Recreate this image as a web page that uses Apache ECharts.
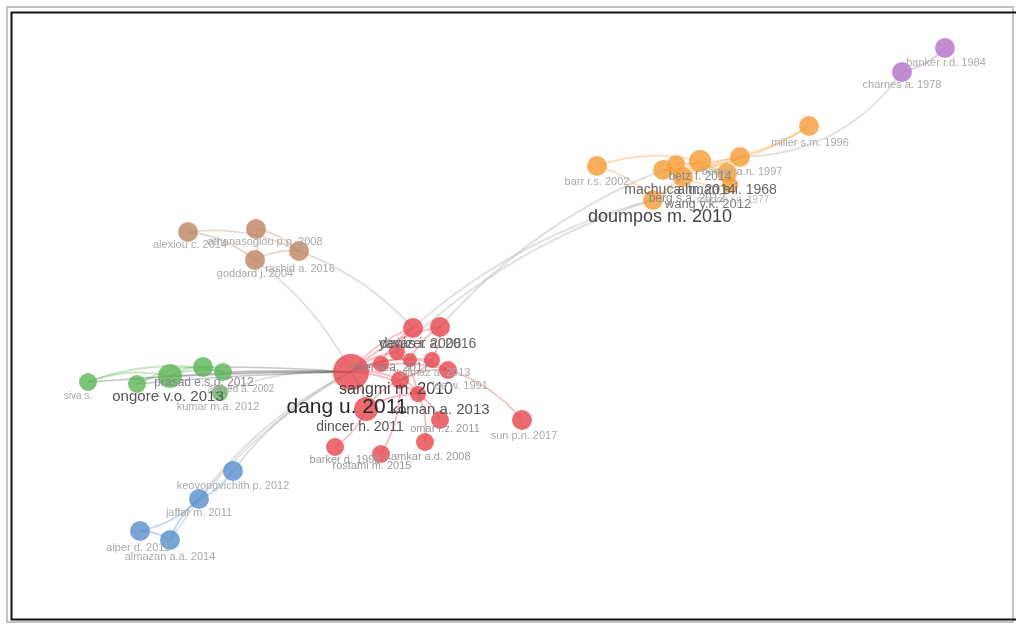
<!DOCTYPE html>
<html>
<head>
<meta charset="utf-8">
<script src="https://cdn.jsdelivr.net/npm/echarts@6/dist/echarts.min.js"></script>
<style>
  html, body { margin: 0; padding: 0; background: #fff; }
  #chart { width: 1016px; height: 625px; }
</style>
</head>
<body>
<div id="chart"></div>
<script>
// Co-citation network: documents, their cluster, layout position and weight
const nodeNames = [
  'dang u. 2011', 'dincer h. 2011', 'sangmi m. 2010', 'koman a. 2013', 'denizer a. 2016',
  'yavas i. 2008', 'oner w.a. 2017', 'yilmaz a. 2013', 'lee w. 1991', 'omar r.z. 2011',
  'sun p.n. 2017', 'barker d. 1993', 'kamkar a.d. 2008', 'rostami m. 2015', 'ozkan g. 2012',
  'kaya o. 2014',
  'siva s.', 'ongore v.o. 2013', 'prasad e.s.o. 2012', 'ahmed a. 2002', 'kumar m.a. 2012',
  'rahman m. 2010',
  'alexiou c. 2014', 'athanasoglou p.p. 2008', 'goddard j. 2004', 'rashid a. 2016',
  'keovongvichith p. 2012', 'jaffar m. 2011', 'alper d. 2011', 'almazan a.a. 2014',
  'doumpos m. 2010', 'barr r.s. 2002', 'miller s.m. 1996', 'berger a.n. 1997', 'machuca m. 2014',
  'altman e.i. 1968', 'wang y.k. 2012', 'berg s.a. 2012', 'merton r.c. 1977', 'betz f. 2014',
  'banker r.d. 1984', 'charnes a. 1978'
];
const nodeCluster = [
  1, 1, 1, 1, 1, 1, 1, 1, 1, 1, 1, 1, 1, 1, 1, 1,
  2, 2, 2, 2, 2, 2,
  3, 3, 3, 3,
  4, 4, 4, 4,
  5, 5, 5, 5, 5, 5, 5, 5, 5, 5,
  6, 6
];
const nodeX = [
  351, 366, 400, 418, 440, 413, 397, 432, 448, 440, 522, 335, 425, 381, 381, 410,
  88, 137, 170, 223, 220, 203,
  188, 256, 255, 299,
  233, 199, 140, 170,
  653, 597, 809, 740, 663, 700, 683, 727, 730, 676,
  945, 902
];
const nodeY = [
  372, 409, 380, 394, 327, 328, 352, 360, 370, 420, 420, 447, 442, 454, 364, 360,
  382, 384, 376, 372, 393, 367,
  232, 229, 260, 251,
  471, 499, 531, 540,
  200, 166, 126, 157, 170, 161, 177, 173, 185, 164,
  48, 72
];
const nodeWeight = [
  18, 12, 9, 8, 10, 10, 8, 8, 9, 9, 10, 9, 9, 9, 8, 7,
  9, 9, 12, 9, 8, 10,
  10, 10, 10, 10,
  10, 10, 10, 10,
  10, 10, 10, 10, 10, 11, 10, 10, 8, 9,
  10, 10
];

// Links inside a cluster
const clusterLinks = [
  ['dang u. 2011', 'dincer h. 2011'], ['dang u. 2011', 'sangmi m. 2010'], ['dang u. 2011', 'koman a. 2013'],
  ['dang u. 2011', 'oner w.a. 2017'], ['dang u. 2011', 'ozkan g. 2012'], ['dang u. 2011', 'kaya o. 2014'],
  ['dang u. 2011', 'yavas i. 2008'], ['dang u. 2011', 'denizer a. 2016'], ['dang u. 2011', 'lee w. 1991'],
  ['dang u. 2011', 'yilmaz a. 2013'], ['sangmi m. 2010', 'lee w. 1991'], ['lee w. 1991', 'sun p.n. 2017'],
  ['dincer h. 2011', 'barker d. 1993'], ['sangmi m. 2010', 'rostami m. 2015'], ['koman a. 2013', 'kamkar a.d. 2008'],
  ['koman a. 2013', 'omar r.z. 2011'], ['yilmaz a. 2013', 'sangmi m. 2010'], ['kaya o. 2014', 'denizer a. 2016'],
  ['oner w.a. 2017', 'yavas i. 2008'], ['ozkan g. 2012', 'koman a. 2013'], ['dincer h. 2011', 'sangmi m. 2010'],
  ['ozkan g. 2012', 'yavas i. 2008'], ['kaya o. 2014', 'lee w. 1991'], ['oner w.a. 2017', 'koman a. 2013'],
  ['dincer h. 2011', 'koman a. 2013'], ['denizer a. 2016', 'yilmaz a. 2013'],
  ['siva s.', 'ahmed a. 2002'], ['siva s.', 'prasad e.s.o. 2012'], ['ongore v.o. 2013', 'prasad e.s.o. 2012'],
  ['ongore v.o. 2013', 'rahman m. 2010'], ['prasad e.s.o. 2012', 'rahman m. 2010'], ['prasad e.s.o. 2012', 'ahmed a. 2002'],
  ['rahman m. 2010', 'ahmed a. 2002'], ['kumar m.a. 2012', 'ahmed a. 2002'],
  ['alexiou c. 2014', 'goddard j. 2004'], ['alexiou c. 2014', 'rashid a. 2016'], ['athanasoglou p.p. 2008', 'rashid a. 2016'],
  ['goddard j. 2004', 'rashid a. 2016'], ['athanasoglou p.p. 2008', 'goddard j. 2004'],
  ['keovongvichith p. 2012', 'jaffar m. 2011'], ['jaffar m. 2011', 'alper d. 2011'], ['alper d. 2011', 'almazan a.a. 2014'],
  ['almazan a.a. 2014', 'jaffar m. 2011'],
  ['barr r.s. 2002', 'doumpos m. 2010'], ['barr r.s. 2002', 'altman e.i. 1968'], ['miller s.m. 1996', 'machuca m. 2014'],
  ['miller s.m. 1996', 'betz f. 2014'], ['berger a.n. 1997', 'machuca m. 2014'], ['altman e.i. 1968', 'machuca m. 2014'],
  ['betz f. 2014', 'berg s.a. 2012'], ['wang y.k. 2012', 'doumpos m. 2010'], ['merton r.c. 1977', 'wang y.k. 2012'],
  ['berg s.a. 2012', 'altman e.i. 1968'], ['doumpos m. 2010', 'berger a.n. 1997'], ['machuca m. 2014', 'wang y.k. 2012'],
  ['banker r.d. 1984', 'charnes a. 1978']
];
// Links between clusters
const crossLinks = [
  ['rashid a. 2016', 'yavas i. 2008'], ['goddard j. 2004', 'dang u. 2011'],
  ['keovongvichith p. 2012', 'dang u. 2011'], ['jaffar m. 2011', 'dang u. 2011'], ['almazan a.a. 2014', 'dang u. 2011'],
  ['yavas i. 2008', 'doumpos m. 2010'], ['denizer a. 2016', 'machuca m. 2014'], ['oner w.a. 2017', 'doumpos m. 2010'],
  ['charnes a. 1978', 'berger a.n. 1997'], ['kumar m.a. 2012', 'dang u. 2011']
];
// Heaviest links
const strongLinks = [
  ['ahmed a. 2002', 'dang u. 2011'], ['rahman m. 2010', 'dang u. 2011'], ['prasad e.s.o. 2012', 'dang u. 2011'],
  ['ongore v.o. 2013', 'dang u. 2011'], ['siva s.', 'dang u. 2011']
];

// ---- styling ----
const clusterColors = {
  1: 'rgba(230,70,78,0.80)', 2: 'rgba(92,180,86,0.80)', 3: 'rgba(190,132,96,0.80)',
  4: 'rgba(88,142,204,0.80)', 5: 'rgba(246,158,56,0.82)', 6: 'rgba(176,112,200,0.80)'
};
const clusterLinkColors = {
  1: 'rgba(225,70,78,0.7)', 2: 'rgba(92,180,86,0.65)', 3: 'rgba(190,132,96,0.65)',
  4: 'rgba(88,142,204,0.7)', 5: 'rgba(246,158,56,0.7)', 6: 'rgba(176,112,200,0.75)'
};
// bend of individual cross-cluster curves (default 0.12)
const crossBend = { 'charnes a. 1978': 0.25 };
// label: [dx, dy, fontSize, colour] from the node centre; missing entry = no label
const labelStyle = {
  'dang u. 2011': [-4, 35, 21, '#2a2a2a'],
  'dincer h. 2011': [-6, 18, 14, '#555'],
  'sangmi m. 2010': [-4, 10, 16, '#444'],
  'koman a. 2013': [22, 16, 15, '#555'],
  'denizer a. 2016': [-12, 17, 14, '#666'],
  'yavas i. 2008': [7, 16, 14, '#666'],
  'oner w.a. 2017': [-7, 16, 12, '#888'],
  'yilmaz a. 2013': [3, 13, 11, '#aaa'],
  'lee w. 1991': [12, 16, 11, '#aaa'],
  'omar r.z. 2011': [5, 9, 11, '#999'],
  'sun p.n. 2017': [2, 16, 11, '#aaa'],
  'barker d. 1993': [10, 13, 11, '#999'],
  'kamkar a.d. 2008': [3, 15, 11, '#999'],
  'rostami m. 2015': [-9, 12, 11, '#999'],
  'siva s.': [-10, 14, 10, '#aaa'],
  'ongore v.o. 2013': [31, 13, 15, '#555'],
  'prasad e.s.o. 2012': [34, 7, 12, '#888'],
  'ahmed a. 2002': [18, 17, 10, '#aaa'],
  'kumar m.a. 2012': [-2, 14, 11, '#aaa'],
  'alexiou c. 2014': [2, 13, 11, '#aaa'],
  'athanasoglou p.p. 2008': [9, 13, 11, '#aaa'],
  'goddard j. 2004': [0, 14, 11, '#aaa'],
  'rashid a. 2016': [1, 18, 11, '#aaa'],
  'keovongvichith p. 2012': [0, 15, 11, '#aaa'],
  'jaffar m. 2011': [0, 14, 11, '#aaa'],
  'alper d. 2011': [-2, 17, 11, '#aaa'],
  'almazan a.a. 2014': [0, 17, 11, '#aaa'],
  'doumpos m. 2010': [7, 17, 18, '#444'],
  'barr r.s. 2002': [0, 16, 11, '#aaa'],
  'miller s.m. 1996': [1, 17, 11, '#aaa'],
  'berger a.n. 1997': [2, 15, 11, '#aaa'],
  'machuca m. 2014': [17, 20, 14, '#666'],
  'altman e.i. 1968': [27, 29, 14, '#666'],
  'wang y.k. 2012': [25, 27, 13, '#777'],
  'berg s.a. 2012': [-40, 26, 12, '#888'],
  'merton r.c. 1977': [3, 15, 10, '#bbb'],
  'betz f. 2014': [24, 13, 12, '#888'],
  'banker r.d. 1984': [1, 15, 11, '#aaa'],
  'charnes a. 1978': [0, 13, 11, '#aaa']
};
const FONT = '"Liberation Sans", Arial, sans-serif';

const nodes = nodeNames.map((name, i) => {
  const ls = labelStyle[name];
  const r = nodeWeight[i];
  return {
    name,
    value: [nodeX[i], nodeY[i]],
    symbolSize: r * 2,
    itemStyle: { color: clusterColors[nodeCluster[i]] },
    label: ls ? {
      show: true, position: [r + ls[0], r + ls[1]], align: 'center', verticalAlign: 'middle',
      fontSize: ls[2], color: ls[3], fontFamily: FONT
    } : { show: false }
  };
});
const clusterOf = name => nodeCluster[nodeNames.indexOf(name)];
const links = [];
clusterLinks.forEach(([s, t]) => links.push({
  source: s, target: t,
  lineStyle: { color: clusterLinkColors[clusterOf(s)], width: 1.8, curveness: 0.15 }
}));
crossLinks.forEach(([s, t]) => links.push({
  source: s, target: t,
  lineStyle: { color: 'rgba(175,175,175,0.75)', width: 2, curveness: crossBend[s] ?? 0.12 }
}));
strongLinks.forEach(([s, t]) => links.push({
  source: s, target: t,
  lineStyle: { color: 'rgba(70,70,70,0.6)', width: 1.6, curveness: 0.02 }
}));

const chart = echarts.init(document.getElementById('chart'));
chart.setOption({
  animation: false,
  backgroundColor: '#fff',
  grid: { left: 0, right: 0, top: 0, bottom: 0 },
  xAxis: { type: 'value', min: 0, max: 1016, show: false },
  yAxis: { type: 'value', min: 0, max: 625, inverse: true, show: false },
  graphic: [
    { type: 'rect', shape: { x: 7, y: 7, width: 1006, height: 615 }, style: { fill: 'none', stroke: '#b0b0b0', lineWidth: 1.5 }, silent: true },
    { type: 'polyline', shape: { points: [[1016, 12.5], [11.5, 12.5], [11.5, 619.5], [1016, 619.5]] }, style: { fill: 'none', stroke: '#111', lineWidth: 2 }, silent: true }
  ],
  series: [{
    type: 'graph',
    coordinateSystem: 'cartesian2d',
    layout: 'none',
    symbol: 'circle',
    data: nodes,
    links: links,
    emphasis: { disabled: true },
    labelLayout: { hideOverlap: false }
  }]
});
</script>
</body>
</html>
